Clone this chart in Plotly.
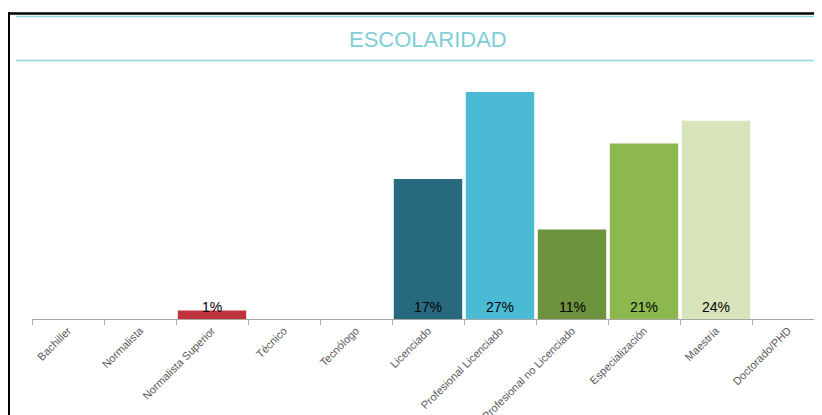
import plotly.graph_objects as go

categories = ["Bachiller", "Normalista", "Normalista Superior", "Técnico", "Tecnólogo",
              "Licenciado", "Profesional Licenciado", "Profesional no Licenciado",
              "Especialización", "Maestría", "Doctorado/PHD"]
values = [0, 0, 1.0, 0, 0, 16.6, 26.9, 10.6, 20.8, 23.5, 0]
colors = ["#C0504D", "#C0504D", "#C0343F", "#C0504D", "#C0504D", "#276A80",
          "#4BBAD5", "#6E933F", "#8CB84F", "#D8E4BC", "#D8E4BC"]
labels = [f"{round(v)}%" if v > 0 else "" for v in values]

OFF = 8  # page body margin
W, H = 822 - OFF, 415 - OFF
fig = go.Figure()
fig.add_trace(go.Bar(x=categories, y=values, marker=dict(color=colors, line=dict(width=0)),
                     hoverinfo="skip"))


def px_x(p):
    return (p - OFF) / W


def px_y(p):
    return 1 - (p - OFF) / H


plot_left, plot_right = 32, 822
base_y, top_y = 319, 70
ppu = 227 / 26.9
ymax = (base_y - top_y) / ppu
ncat_span = (plot_right - plot_left) / 72.0

shapes = [
    dict(type="line", xref="paper", yref="paper", x0=px_x(8), x1=1.01, y0=px_y(13.5), y1=px_y(13.5),
         line=dict(color="#000000", width=2.5)),
    dict(type="line", xref="paper", yref="paper", x0=px_x(9), x1=px_x(9), y0=px_y(12.3), y1=-0.01,
         line=dict(color="#000000", width=2)),
    dict(type="line", xref="paper", yref="paper", x0=px_x(16), x1=1.01, y0=px_y(16.5), y1=px_y(16.5),
         line=dict(color="#8ED6D8", width=1.5)),
    dict(type="line", xref="paper", yref="paper", x0=px_x(16), x1=1.01, y0=px_y(60.5), y1=px_y(60.5),
         line=dict(color="#8ED6D8", width=1.5)),
]

annotations = [dict(text="ESCOLARIDAD", xref="paper", yref="paper", x=px_x(428), y=px_y(39),
                    xanchor="center", yanchor="middle", showarrow=False,
                    font=dict(family="Liberation Sans, Arial", size=22, color="#7ECFD5"))]
for c, lab in zip(categories, labels):
    if lab:
        annotations.append(dict(text=lab, x=c, y=0, xref="x", yref="y", xanchor="center",
                                yanchor="bottom", yshift=2, showarrow=False,
                                font=dict(family="Liberation Sans, Arial", size=14, color="#000000")))

fig.update_layout(
    width=W, height=H,
    margin=dict(l=0, r=0, t=0, b=0, autoexpand=False),
    paper_bgcolor="white", plot_bgcolor="white",
    showlegend=False,
    bargap=0.05,
    shapes=shapes,
    annotations=annotations,
    xaxis=dict(domain=[px_x(plot_left), 1], range=[-0.5, -0.5 + ncat_span],
               type="category", tickangle=-45, tickson="boundaries",
               ticks="outside", ticklen=5, tickcolor="#A6A6A6",
               showline=True, linecolor="#A6A6A6", linewidth=1,
               tickfont=dict(family="Liberation Sans, Arial", size=11, color="#595959"),
               showgrid=False, zeroline=False, fixedrange=True, automargin=False),
    yaxis=dict(domain=[px_y(base_y), px_y(top_y)], range=[0, ymax], visible=False,
               showgrid=False, zeroline=False, fixedrange=True),
)

fig.write_html("out.html")
